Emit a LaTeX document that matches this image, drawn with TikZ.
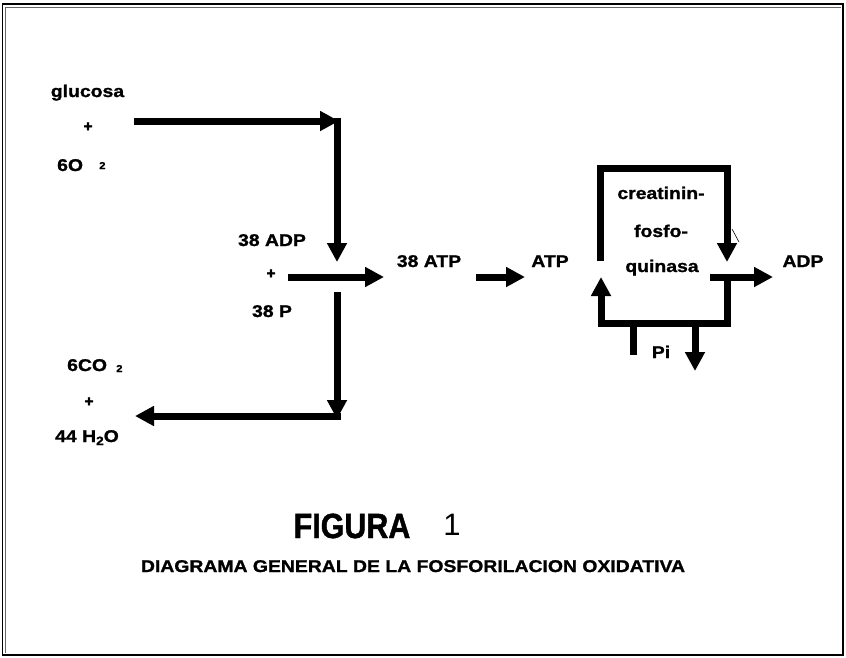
\documentclass[tikz,border=0pt]{standalone}
\usepackage{fontspec}
\setmainfont{Liberation Sans}
\newfontfamily\widef[FakeStretch=1.14,FakeBold=1.2]{Liberation Sans}
\newfontfamily\condf[FakeStretch=0.87,FakeBold=1.2]{Liberation Sans}
\newfontfamily\plusf[FakeBold=3]{Liberation Sans}
\usetikzlibrary{arrows.meta}
\begin{document}
\begin{tikzpicture}[x=1pt,y=-1pt,
  lbl/.style={font=\widef\bfseries\fontsize{17}{20}\selectfont, inner sep=0pt, anchor=base},
  lblw/.style={lbl, anchor=base west},
  subn/.style={font=\widef\bfseries\fontsize{10}{11}\selectfont, inner sep=0pt, anchor=base west},
  plusn/.style={font=\plusf\bfseries\fontsize{15}{15}\selectfont, inner sep=0pt},
  fat/.style={line width=7pt, line cap=butt, line join=miter, -{Triangle[length=19pt,width=19pt]}},
  barl/.style={line width=7pt, line cap=butt, line join=miter}]
\useasboundingbox (0,0) rectangle (846,657);
\fill[white] (0,0) rectangle (846,657);
% frame
\draw[line width=1.6pt] (2.5,4) rectangle (843,655);
\draw[line width=0.6pt, black!60] (5,7) -- (841,7);
\draw[line width=0.6pt, black!60] (5,7) -- (5,653);

% left labels
\node[lbl] (glu) at (87.5,97) {glucosa};
\node[plusn] (p1) at (88,127) {+};
\node[lblw] (o2) at (57,171) {6O};
\node[subn] (o2s) at (99,169) {2};
\node[lblw] (co2) at (67,371) {6CO};
\node[subn] (co2s) at (116,372) {2};
\node[plusn] (p3) at (89,402) {+};
\node[lblw] (h2o) at (55,442) {44 H\raisebox{-3pt}{\fontsize{12}{12}\selectfont 2}O};

% middle labels
\node[lbl] (adp38) at (272,246) {38 ADP};
\node[plusn] (p2) at (271,274) {+};
\node[lbl] (p38) at (272,317) {38 P};
\node[lbl] (atp38) at (429,267) {38 ATP};
\node[lbl] (atp) at (550,267) {ATP};
\node[lbl] (adp) at (803,267) {ADP};

% enzyme labels
\node[lbl] (cr) at (661,199) {creatinin-};
\node[lbl] (fo) at (661,237) {fosfo-};
\node[lbl] (qu) at (662,272) {quinasa};
\node[lbl] (pi) at (661,358) {Pi};

% coordinates
\coordinate (a1) at (134,121);
\coordinate (a2) at (339,121);
\coordinate (b1) at (337,117.5);
\coordinate (b2) at (337,262);
\coordinate (m1) at (288,277);
\coordinate (m2) at (384,277);
\coordinate (c1) at (337,292);
\coordinate (c2) at (337,419);
\coordinate (d1) at (340.5,416);
\coordinate (d2) at (135,416);
\coordinate (t1) at (476,277);
\coordinate (t2) at (525,277);
\coordinate (l1) at (600,261);
\coordinate (l2) at (600,168);
\coordinate (l3) at (727,168);
\coordinate (l4) at (727,262);
\coordinate (r1) at (727,278);
\coordinate (r2) at (727,323);
\coordinate (r3) at (601,323);
\coordinate (r4) at (601,277);
\coordinate (h1) at (710,277);
\coordinate (h2) at (773,277);
\coordinate (s1) at (633,323);
\coordinate (s2) at (633,355);
\coordinate (s3) at (695,323);
\coordinate (s4) at (695,371);

% arrows
\draw[fat] (a1) -- (a2);
\draw[fat] (b1) -- (b2);
\draw[fat] (m1) -- (m2);
\draw[fat] (c1) -- (c2);
\draw[fat] (d1) -- (d2);
\draw[fat] (t1) -- (t2);
\draw[fat] (l1) -- (l2) -- (l3) -- (l4);
\draw[fat] (r1) -- (r2) -- (r3) -- (r4);
\draw[fat] (h1) -- (h2);
\draw[barl] (s1) -- (s2);
\draw[fat] (s3) -- (s4);
\draw[line width=0.6pt] (732,229) -- (739,242);

% title
\node[font=\condf\bfseries\fontsize{35}{40}\selectfont, inner sep=0pt, anchor=base] (fig) at (352,538) {FIGURA};
\node[font=\fontsize{31}{34}\selectfont, inner sep=0pt, anchor=base] (one) at (452,535) {1};
\node[lbl] (sub) at (413,572) {DIAGRAMA GENERAL DE LA FOSFORILACION OXIDATIVA};
\end{tikzpicture}
\end{document}
